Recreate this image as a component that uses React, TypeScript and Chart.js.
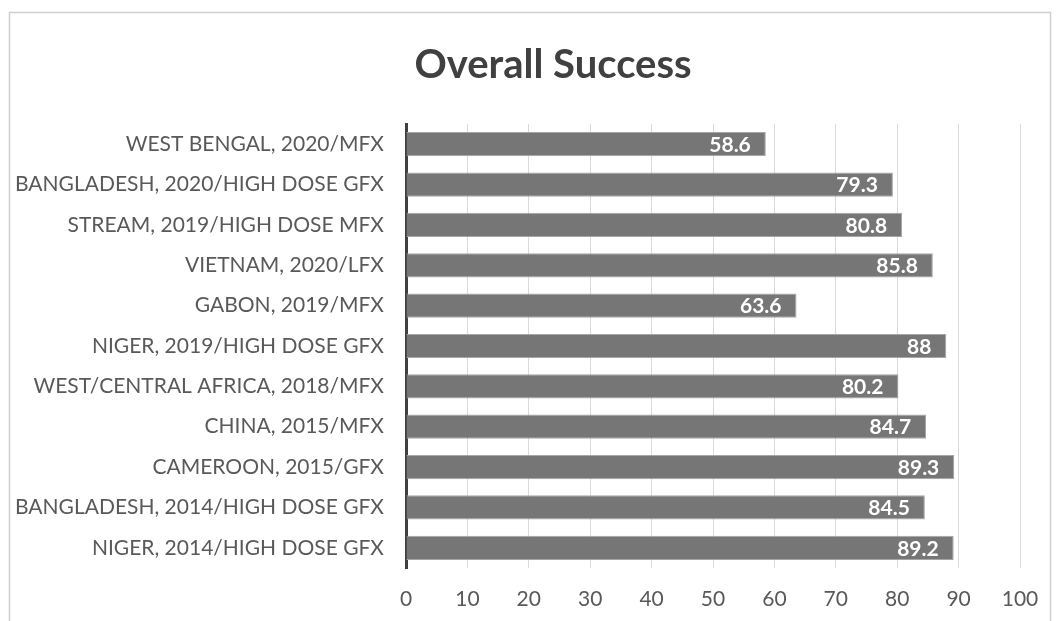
import React, { useEffect, useRef } from "react";
import { Chart, registerables } from "chart.js";

Chart.register(...registerables);

const categories = [
  "WEST BENGAL, 2020/MFX",
  "BANGLADESH, 2020/HIGH DOSE GFX",
  "STREAM, 2019/HIGH DOSE MFX",
  "VIETNAM, 2020/LFX",
  "GABON, 2019/MFX",
  "NIGER, 2019/HIGH DOSE GFX",
  "WEST/CENTRAL AFRICA, 2018/MFX",
  "CHINA, 2015/MFX",
  "CAMEROON, 2015/GFX",
  "BANGLADESH, 2014/HIGH DOSE GFX",
  "NIGER, 2014/HIGH DOSE GFX",
];
const successValues = [58.6, 79.3, 80.8, 85.8, 63.6, 88, 80.2, 84.7, 89.3, 84.5, 89.2];
const xTicks = [0, 10, 20, 30, 40, 50, 60, 70, 80, 90, 100];
const titleText = "Overall Success";

const FONT = "Lato, 'Open Sans', sans-serif";

const framePlugin = {
  id: "frame",
  beforeDraw(chart: any) {
    const ctx = chart.ctx;
    ctx.save();
    ctx.fillStyle = "#ffffff";
    ctx.fillRect(0, 0, chart.width, chart.height);
    ctx.strokeStyle = "#cfcfcf";
    ctx.lineWidth = 1.5;
    ctx.strokeRect(9.5, 12.5, 1041, 640);
    ctx.fillStyle = "#404040";
    ctx.font = `bold 40px ${FONT}`;
    ctx.textAlign = "center";
    ctx.textBaseline = "alphabetic";
    ctx.fillText(titleText, 553, 78);
    ctx.restore();
  },
};

const labelPlugin = {
  id: "barLabels",
  afterDatasetsDraw(chart: any) {
    const ctx = chart.ctx;
    const meta = chart.getDatasetMeta(0);
    ctx.save();
    ctx.fillStyle = "#ffffff";
    ctx.font = `bold 21px ${FONT}`;
    ctx.textAlign = "right";
    ctx.textBaseline = "middle";
    meta.data.forEach((bar: any, i: number) => {
      ctx.fillText(String(successValues[i]), bar.x - 15, bar.y + 1);
    });
    ctx.restore();
  },
};

export default function App() {
  const ref = useRef<HTMLCanvasElement | null>(null);
  useEffect(() => {
    if (!ref.current) return;
    const chart = new Chart(ref.current, {
      type: "bar",
      data: {
        labels: categories,
        datasets: [
          {
            data: successValues,
            backgroundColor: "#767676",
            borderColor: "#a6a6a6",
            borderWidth: 1,
            categoryPercentage: 1,
            barPercentage: 0.6,
          },
        ],
      },
      options: {
        indexAxis: "y",
        animation: false,
        responsive: false,
        maintainAspectRatio: false,
        layout: { padding: { left: 0, right: 39, top: 124, bottom: 0 } },
        plugins: {
          legend: { display: false },
          tooltip: { enabled: false },
          title: { display: false },
        },
        scales: {
          x: {
            min: 0,
            max: 100,
            afterBuildTicks(scale: any) {
              scale.ticks = xTicks.map((v) => ({ value: v }));
            },
            afterFit(scale: any) {
              scale.height = 53;
            },
            grid: { color: "#d9d9d9", lineWidth: 1, drawTicks: false },
            border: { display: false },
            ticks: {
              color: "#595959",
              font: { family: FONT, size: 21 },
              padding: 19,
            },
          },
          y: {
            afterFit(scale: any) {
              scale.width = 406;
            },
            grid: { display: false, drawTicks: false },
            border: { display: true, color: "#404040", width: 3 },
            ticks: {
              color: "#595959",
              font: { family: FONT, size: 21 },
              padding: 22,
              autoSkip: false,
            },
          },
        },
      },
      plugins: [framePlugin, labelPlugin],
    });
    return () => chart.destroy();
  }, []);
  return (
    <div style={{ position: "fixed", left: 0, top: 0, width: 1059, height: 621 }}>
      <canvas ref={ref} width={1059} height={621} style={{ width: 1059, height: 621, display: "block" }} />
    </div>
  );
}
